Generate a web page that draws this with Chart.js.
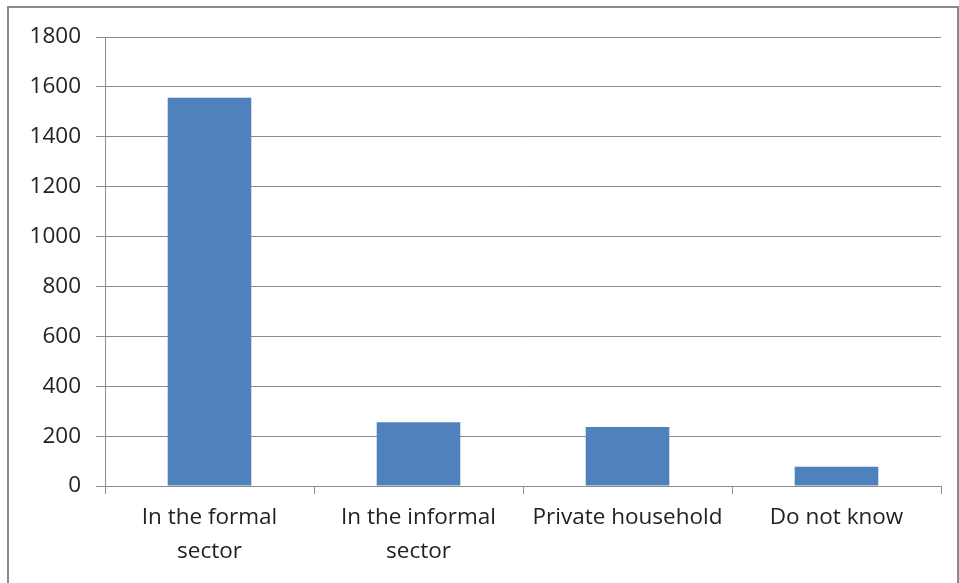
<!DOCTYPE html>
<html>
<head>
<meta charset="utf-8">
<script src="https://cdn.jsdelivr.net/npm/chart.js@4/dist/chart.umd.min.js"></script>
<style>
  html, body { margin: 0; padding: 0; background: #fff; }
  #wrap { position: relative; width: 959px; height: 583px; overflow: hidden; }
  #frame {
    position: absolute; left: 7px; top: 6px; width: 948px; height: 600px;
    border: 2px solid #8a8a8a; pointer-events: none;
  }
  canvas { position: absolute; left: 0; top: 0; }
</style>
</head>
<body>
<div id="wrap">
  <canvas id="chart" width="959" height="583"></canvas>
  <div id="frame"></div>
</div>
<script>
/* --- Data --- */
const categories = [
  ['In the formal', 'sector'],
  ['In the informal', 'sector'],
  'Private household',
  'Do not know'
];
const counts = [1556, 256, 237, 77];
const yMin = 0;
const yMax = 1800;
const yStep = 200;

/* --- Chart --- */
const gridGray = '#8c8c8c';
const textColor = '#222';

new Chart(document.getElementById('chart'), {
  type: 'bar',
  data: {
    labels: categories,
    datasets: [{
      data: counts,
      backgroundColor: '#4f81bd',
      borderWidth: 0,
      barPercentage: 0.8,
      categoryPercentage: 0.5
    }]
  },
  options: {
    responsive: false,
    animation: false,
    layout: { padding: { top: 37, right: 18, left: 0, bottom: 0 } },
    plugins: { legend: { display: false }, tooltip: { enabled: false } },
    scales: {
      x: {
        grid: {
          display: true,
          offset: true,
          drawOnChartArea: false,
          drawTicks: true,
          tickLength: 8,
          color: gridGray
        },
        border: { color: gridGray, width: 1 },
        ticks: {
          color: textColor,
          font: { family: "'Open Sans', sans-serif", size: 22.5, lineHeight: 1.5 },
          padding: 7,
          maxRotation: 0,
          autoSkip: false
        },
        afterFit: (scale) => { scale.height = 97; }
      },
      y: {
        min: yMin,
        max: yMax,
        grid: {
          color: gridGray,
          tickLength: 9
        },
        border: { color: gridGray, width: 1 },
        ticks: {
          stepSize: yStep,
          color: textColor,
          font: { family: "'Open Sans', sans-serif", size: 22.5 },
          padding: 15,
          callback: (v) => String(v)
        },
        afterFit: (scale) => { scale.width = 105; }
      }
    }
  }
});
</script>
</body>
</html>
